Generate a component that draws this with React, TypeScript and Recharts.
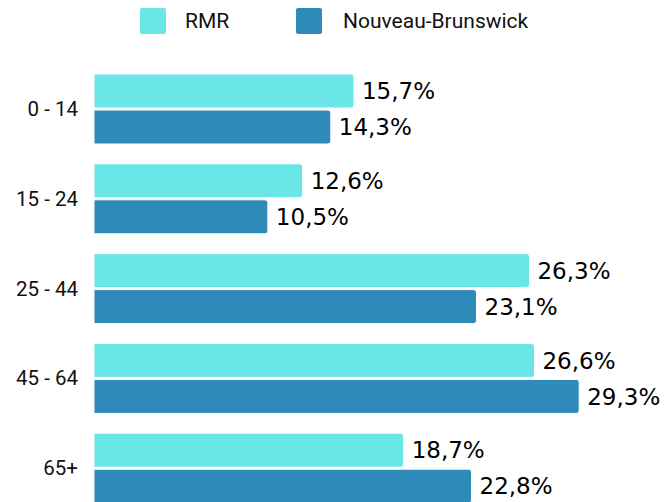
import React from "react";
import { BarChart, Bar, XAxis, YAxis, Legend, LabelList } from "recharts";

const categories = ["0 - 14", "15 - 24", "25 - 44", "45 - 64", "65+"];
const rmrValues = [15.7, 12.6, 26.3, 26.6, 18.7];
const nbValues = [14.3, 10.5, 23.1, 29.3, 22.8];
const seriesNames = ["RMR", "Nouveau-Brunswick"];
const seriesColors = ["#6ae5e8", "#2e8ab9"];

const data = categories.map((c, i) => ({ cat: c, rmr: rmrValues[i], nb: nbValues[i] }));

const fmt = (v: any) => String(v).replace(".", ",") + "%";

const LegendContent = () => (
  <div style={{ height: 55, position: "relative", fontFamily: "Roboto, sans-serif", fontWeight: 400 }}>
    <div style={{ position: "absolute", left: 140, top: 8, width: 26, height: 26, background: seriesColors[0], borderRadius: 2 }} />
    <div style={{ position: "absolute", left: 185, top: 8, fontSize: 21, lineHeight: "26px", color: "#111", whiteSpace: "nowrap" }}>{seriesNames[0]}</div>
    <div style={{ position: "absolute", left: 296, top: 8, width: 26, height: 26, background: seriesColors[1], borderRadius: 2 }} />
    <div style={{ position: "absolute", left: 343, top: 8, fontSize: 21, lineHeight: "26px", color: "#111", whiteSpace: "nowrap" }}>{seriesNames[1]}</div>
  </div>
);

const YTick = (props: any) => {
  const { x, y, payload } = props;
  return (
    <text x={x} y={y} dy={7} textAnchor="end" fontSize={20.5} fill="#111" fontFamily="Roboto, sans-serif" fontWeight={400}>
      {payload.value}
    </text>
  );
};

const labelStyle = { fontSize: 23, fill: "#000", fontFamily: "'DejaVu Sans', sans-serif" };

export default function App() {
  return (
    <div style={{ position: "absolute", left: 0, top: 0 }}>
      <BarChart
        width={665}
        height={513}
        data={data}
        layout="vertical"
        margin={{ top: 9, right: 8, bottom: 0, left: 0 }}
        barGap={2}
        barSize={34}
      >
        <Legend verticalAlign="top" align="left" content={<LegendContent />} wrapperStyle={{ left: 0, top: 0, width: 665 }} height={55} />
        <XAxis type="number" domain={[0, 34]} hide />
        <YAxis
          type="category"
          dataKey="cat"
          width={94}
          axisLine={false}
          tickLine={false}
          tickSize={0}
          tickMargin={16}
          tick={<YTick />}
        />
        <Bar dataKey="rmr" name={seriesNames[0]} fill={seriesColors[0]} stroke="#ffffff" strokeWidth={1} radius={[0, 3, 3, 0]} isAnimationActive={false}>
          <LabelList dataKey="rmr" position="right" offset={8} formatter={fmt} style={labelStyle} />
        </Bar>
        <Bar dataKey="nb" name={seriesNames[1]} fill={seriesColors[1]} stroke="#ffffff" strokeWidth={1} radius={[0, 3, 3, 0]} isAnimationActive={false}>
          <LabelList dataKey="nb" position="right" offset={8} formatter={fmt} style={labelStyle} />
        </Bar>
      </BarChart>
    </div>
  );
}
